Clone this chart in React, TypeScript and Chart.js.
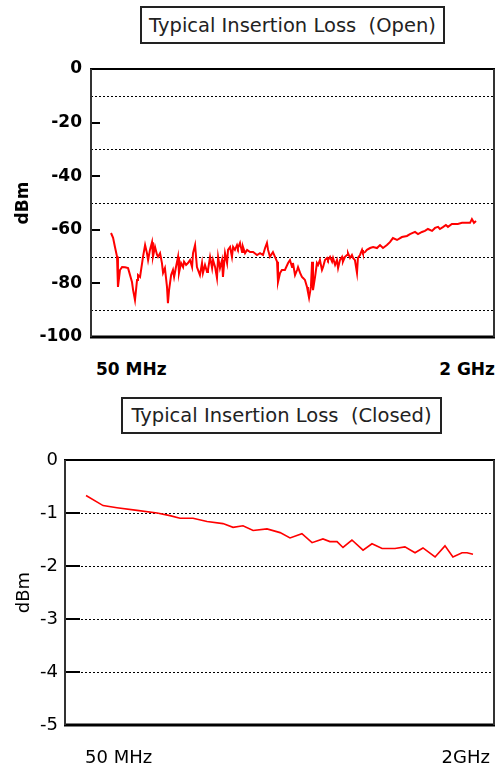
import React, { useEffect, useRef } from "react";
import { Chart, registerables } from "chart.js";

Chart.register(...registerables);

// ---------- Data ----------
const openFreqMHz = [
  50, 61, 71, 82, 87, 98, 109, 125, 141, 162, 168, 178, 189, 194, 205, 216, 221, 232, 242, 248,
  258, 269, 274, 285, 296, 301, 312, 322, 328, 338, 349, 354, 360, 371, 381, 387, 397, 408, 413, 424,
  435, 440, 451, 461, 472, 483, 488, 499, 509, 525, 536, 541, 552, 563, 568, 579, 590, 595, 606, 616,
  622, 632, 643, 648, 659, 670, 675, 686, 696, 702, 712, 723, 728, 739, 750, 755, 766, 777, 793, 809,
  830, 846, 862, 873, 883, 889, 899, 915, 926, 937, 942, 953, 963, 979, 996, 1006, 1017, 1022, 1033, 1044,
  1049, 1060, 1070, 1076, 1086, 1097, 1102, 1108, 1118, 1124, 1129, 1140, 1150, 1156, 1166, 1177, 1183, 1193, 1204, 1209,
  1220, 1231, 1236, 1247, 1257, 1263, 1273, 1284, 1289, 1300, 1311, 1316, 1327, 1337, 1343, 1353, 1364, 1369, 1380, 1391,
  1396, 1407, 1417, 1434, 1450, 1471, 1487, 1503, 1524, 1540, 1556, 1578, 1604, 1631, 1647, 1674, 1690, 1711, 1727, 1743,
  1765, 1781, 1797, 1807, 1823, 1839, 1850, 1871, 1903, 1925, 1968, 1978, 1989, 2000,
];
const openLossDbm = [
  -61.2, -63, -66.4, -70, -81.3, -75, -73.9, -74, -74.3, -79.5, -82.5, -86.2, -78.7, -76.9, -77.6, -72.4, -70, -65.7, -68.7, -71.3,
  -67.5, -64.6, -70, -66.4, -69.4, -70.1, -68.7, -72.4, -76.1, -74.3, -81.3, -87.4, -82.5, -76.9, -75, -77.6, -73.9, -70.1, -76.1, -72.4,
  -73.9, -71.9, -73.1, -72.4, -71.3, -73.9, -68.7, -65.7, -73.9, -76.9, -72.4, -76.1, -73.1, -75.7, -75, -70.1, -74.3, -71.3, -73.9, -78,
  -70.1, -74.3, -71.3, -77.6, -68.7, -72.4, -67.5, -66.4, -70.1, -66.4, -67.5, -65.7, -66.8, -64.9, -68.3, -66.4, -68.7, -67.5, -68.3, -68.3,
  -69.4, -68.7, -69.4, -66.8, -64.9, -67.5, -70.1, -68.3, -70.1, -71.9, -79.5, -76.1, -75, -75, -72.4, -71.3, -73.9, -72.4, -76.9, -75,
  -73.9, -76.1, -77.6, -78, -78.7, -81.3, -83.2, -85.4, -81.3, -71.9, -82.5, -77.6, -72.4, -73.1, -71.3, -75, -73.9, -71.3, -70.5, -71.3,
  -70.1, -71.9, -70.5, -73.1, -71.3, -74.3, -71.3, -70.1, -71.9, -70.1, -69.4, -68.7, -70.5, -69.4, -70.5, -71.3, -76.1, -70.5, -69.4, -67.5,
  -68.7, -68.3, -67.5, -66.8, -66.4, -66.8, -65.7, -66.8, -65.7, -64.6, -63.1, -63.8, -62.7, -62.3, -61.6, -60.8, -61.6, -60.8, -60.4, -59.7,
  -60.4, -59.3, -58.9, -59.7, -59, -58.2, -58.9, -57.8, -57.8, -57.4, -57.4, -56, -57.4, -56.7,
];

const closedFreqMHz = [
  50, 136, 206, 307, 408, 473, 524, 589, 660, 740, 791, 841, 892, 962, 1028, 1078, 1138, 1189, 1244, 1279,
  1315, 1345, 1390, 1446, 1491, 1542, 1607, 1657, 1708, 1748, 1809, 1859, 1899, 1945, 1970, 2000,
];
const closedLossDbm = [
  -0.67, -0.86, -0.9, -0.95, -1.0, -1.05, -1.1, -1.1, -1.16, -1.2, -1.27, -1.24, -1.33, -1.3, -1.37, -1.47, -1.39, -1.56, -1.49, -1.54,
  -1.54, -1.65, -1.51, -1.7, -1.58, -1.67, -1.67, -1.64, -1.75, -1.66, -1.83, -1.62, -1.83, -1.75, -1.75, -1.78,
];

const openYLabels = [0, -20, -40, -60, -80, -100];
const openGridValues = [-10, -30, -50, -70, -90];
const closedYLabels = [0, -1, -2, -3, -4, -5];
const closedGridValues = [-1, -2, -3, -4];
const openXLabels = ["50 MHz", "2 GHz"];
const closedXLabels = ["50 MHz", "2GHz"];
const openTitle = "Typical Insertion Loss  (Open)";
const closedTitle = "Typical Insertion Loss  (Closed)";
const yAxisTitle = "dBm";

type PanelProps = {
  freqs: number[];
  values: number[];
  yMin: number;
  yMax: number;
  yLabels: number[];
  gridValues: number[];
  tickValues: number[];
  tickLen: number;
  xMin: number;
  xMax: number;
  yWidth: number;
  labelPad: number;
  titlePad: number;
  fontWeight: string;
  fontSize: number;
  lineWidth: number;
  padTop: number;
  padBottom: number;
  height: number;
};

function ChartPanel(p: PanelProps) {
  const ref = useRef<HTMLCanvasElement | null>(null);
  useEffect(() => {
    if (!ref.current) return;
    const gridPlugin = {
      id: "customGrid",
      beforeDatasetsDraw(chart: any) {
        const { ctx, chartArea } = chart;
        const y = chart.scales.y;
        ctx.save();
        ctx.strokeStyle = "#000";
        ctx.lineWidth = 1;
        ctx.setLineDash([2, 2]);
        for (const v of p.gridValues) {
          const py = Math.round(y.getPixelForValue(v)) + 0.5;
          ctx.beginPath();
          ctx.moveTo(chartArea.left, py);
          ctx.lineTo(chartArea.right, py);
          ctx.stroke();
        }
        ctx.setLineDash([]);
        ctx.lineWidth = 2;
        for (const v of p.tickValues) {
          const py = Math.round(y.getPixelForValue(v));
          ctx.beginPath();
          ctx.moveTo(chartArea.left, py);
          ctx.lineTo(chartArea.left + p.tickLen, py);
          ctx.stroke();
        }
        ctx.restore();
      },
      afterDatasetsDraw(chart: any) {
        const { ctx, chartArea } = chart;
        const { left, right, top, bottom } = chartArea;
        ctx.save();
        ctx.strokeStyle = "#000";
        ctx.lineWidth = 2;
        ctx.beginPath();
        ctx.moveTo(left - 1, top);
        ctx.lineTo(right + 1, top);
        ctx.stroke();
        ctx.lineWidth = 3;
        ctx.beginPath();
        ctx.moveTo(left - 1, bottom);
        ctx.lineTo(right + 1, bottom);
        ctx.stroke();
        ctx.lineWidth = 2;
        ctx.strokeStyle = "#333";
        ctx.beginPath();
        ctx.moveTo(left, top);
        ctx.lineTo(left, bottom);
        ctx.moveTo(right, top);
        ctx.lineTo(right, bottom);
        ctx.stroke();
        ctx.restore();
      },
    };
    const font = { family: "'DejaVu Sans', sans-serif", size: p.fontSize, weight: p.fontWeight as any };
    const chart = new Chart(ref.current, {
      type: "line",
      data: {
        datasets: [
          {
            data: p.freqs.map((f, i) => ({ x: f, y: p.values[i] })),
            borderColor: "#ff0000",
            borderWidth: p.lineWidth,
            pointRadius: 0,
            tension: 0,
            fill: false,
          },
        ],
      },
      options: {
        animation: false,
        responsive: false,
        maintainAspectRatio: false,
        events: [],
        layout: { padding: { top: p.padTop, bottom: p.padBottom, left: 0, right: 2 } },
        plugins: { legend: { display: false }, tooltip: { enabled: false }, title: { display: false } },
        scales: {
          x: {
            type: "linear",
            display: false,
            min: p.xMin,
            max: p.xMax,
          },
          y: {
            type: "linear",
            min: p.yMin,
            max: p.yMax,
            border: { display: false },
            grid: { display: false, drawTicks: false, tickLength: 0 },
            afterBuildTicks: (scale: any) => {
              scale.ticks = p.yLabels.map((v) => ({ value: v }));
            },
            afterFit: (scale: any) => {
              scale.width = p.yWidth;
            },
            ticks: {
              color: "#000",
              font,
              padding: p.labelPad,
              callback: (v: any) => String(v),
            },
            title: {
              display: true,
              text: yAxisTitle,
              color: "#000",
              font,
              padding: { top: p.titlePad, bottom: 0 },
            },
          },
        },
      },
      plugins: [gridPlugin],
    } as any);
    return () => chart.destroy();
  }, []);
  return <canvas ref={ref} width={496} height={p.height} style={{ display: "block", width: 496, height: p.height }} />;
}

const titleStyle = (left: number, top: number, width: number, height: number): React.CSSProperties => ({
  position: "absolute",
  left,
  top,
  width,
  height,
  boxSizing: "border-box",
  border: "2px solid #222",
  background: "#fff",
  fontFamily: "'DejaVu Sans', sans-serif",
  fontSize: 19.5,
  color: "#222",
  display: "flex",
  alignItems: "center",
  justifyContent: "center",
  whiteSpace: "pre",
});

const labelStyle = (top: number, size: number, weight: string): React.CSSProperties => ({
  position: "absolute",
  top,
  fontFamily: "'DejaVu Sans', sans-serif",
  fontSize: size,
  fontWeight: weight as any,
  lineHeight: 1,
  color: "#000",
  whiteSpace: "pre",
});

export default function App() {
  return (
    <div style={{ position: "fixed", left: 0, top: 0, width: 496, height: 768, background: "#fff", overflow: "hidden" }}>
      <div style={{ position: "absolute", left: 0, top: 49 }}>
        <ChartPanel
          freqs={openFreqMHz}
          values={openLossDbm}
          yMin={-100}
          yMax={0}
          yLabels={openYLabels}
          gridValues={openGridValues}
          tickValues={[-20, -40, -60, -80]}
          tickLen={9}
          xMin={-57}
          xMax={2096}
          yWidth={91}
          labelPad={9}
          titlePad={13}
          fontWeight="bold"
          fontSize={17}
          lineWidth={2}
          padTop={20}
          padBottom={22}
          height={310}
        />
      </div>
      <div style={{ position: "absolute", left: 0, top: 440 }}>
        <ChartPanel
          freqs={closedFreqMHz}
          values={closedLossDbm}
          yMin={-5}
          yMax={0}
          yLabels={closedYLabels}
          gridValues={closedGridValues}
          tickValues={closedGridValues}
          tickLen={15}
          xMin={-56}
          xMax={2106}
          yWidth={65}
          labelPad={7}
          titlePad={14}
          fontWeight="normal"
          fontSize={18}
          lineWidth={1.6}
          padTop={20}
          padBottom={25}
          height={310}
        />
      </div>
      <div style={titleStyle(140, 6, 305, 38)}>{openTitle}</div>
      <div style={titleStyle(121, 397, 321, 37)}>{closedTitle}</div>
      <div style={{ ...labelStyle(361, 17, "bold"), left: 96 }}>{openXLabels[0]}</div>
      <div style={{ ...labelStyle(361, 17, "bold"), right: 1 }}>{openXLabels[1]}</div>
      <div style={{ ...labelStyle(748, 18, "normal"), left: 85 }}>{closedXLabels[0]}</div>
      <div style={{ ...labelStyle(748, 18, "normal"), right: 6 }}>{closedXLabels[1]}</div>
    </div>
  );
}
